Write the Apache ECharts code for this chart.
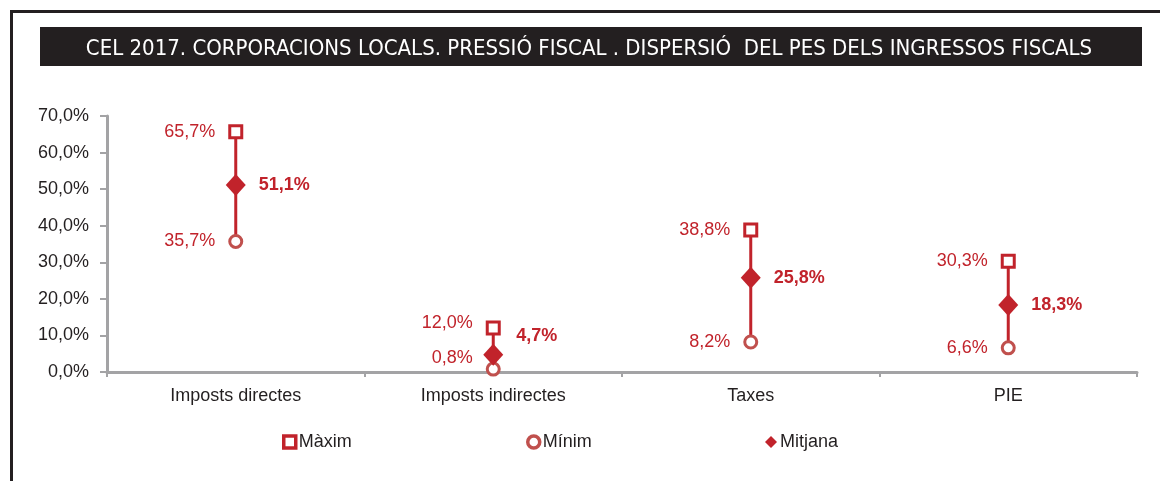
<!DOCTYPE html>
<html lang="ca">
<head>
  <meta charset="UTF-8">
  <title>CEL 2017. Corporacions locals. Pressió fiscal</title>
  <script src="https://cdn.jsdelivr.net/npm/echarts@6.0.0/dist/echarts.min.js"></script>
  <style>
    html, body { margin: 0; padding: 0; width: 100%; height: 100%; background: #fff; }
    #main { width: 1160px; height: 481px; }
  </style>
</head>
<body>
  <div id="main"></div>
  <script>
    const categories = ['Imposts directes', 'Imposts indirectes', 'Taxes', 'PIE'];
    const maxData = [65.7, 12.0, 38.8, 30.3];
    const minData = [35.7, 0.8, 8.2, 6.6];
    const meanData = [51.1, 4.7, 25.8, 18.3];

    const FONT = 'Liberation Sans';
    const RED = '#c1232b';
    const RED_LIGHT = '#c0504d';

    const fmt = v => v.toFixed(1).replace('.', ',') + '%';

    // label nudges for the crowded "Imposts indirectes" column
    const maxOffset = { 1: [0, -5] };
    const minOffset = { 1: [0, -11] };
    const meanOffset = { 1: [0, -19] };

    const withOffset = (arr, offs) => arr.map((v, i) =>
      offs[i] ? { value: [i, v], label: { offset: offs[i] } } : { value: [i, v] });

    const chart = echarts.init(document.getElementById('main'));

    const option = {
      animation: false,
      title: {
        text: 'CEL 2017. CORPORACIONS LOCALS. PRESSIÓ FISCAL . DISPERSIÓ  DEL PES DELS INGRESSOS FISCALS',
        left: 584,
        textAlign: 'center',
        top: 33,
        textStyle: { color: '#fff', fontFamily: 'DejaVu Sans', fontSize: 22, fontWeight: 'condensed' }
      },
      graphic: [
        { type: 'rect', z: -1, shape: { x: 40, y: 27, width: 1102, height: 39 }, style: { fill: '#231f20' } },
        { type: 'line', shape: { x1: 10, y1: 11.5, x2: 1160, y2: 11.5 }, style: { stroke: '#231f20', lineWidth: 3 } },
        { type: 'line', shape: { x1: 11.5, y1: 10, x2: 11.5, y2: 481 }, style: { stroke: '#231f20', lineWidth: 3 } }
      ],
      legend: [
        { data: ['Màxim'], left: 277, top: 428 },
        { data: ['Mínim'], left: 521, top: 428 },
        { data: ['Mitjana'], left: 760, top: 428 }
      ].map(l => Object.assign(l, {
        itemWidth: 12, itemHeight: 12, itemGap: 4,
        itemStyle: { borderWidth: 3.5 },
        textStyle: { fontFamily: FONT, fontSize: 18, color: '#231f20', padding: [0, 0, 0, -2] }
      })),
      grid: { left: 107, right: 23, top: 116, bottom: 109 },
      xAxis: {
        type: 'category',
        data: categories,
        boundaryGap: true,
        axisLine: { lineStyle: { color: '#a3a3a5', width: 3 } },
        axisTick: { show: true, length: 5, lineStyle: { color: '#a3a3a5', width: 2 } },
        axisLabel: { fontFamily: FONT, fontSize: 18, color: '#231f20', margin: 15 }
      },
      yAxis: {
        type: 'value',
        min: 0, max: 70, interval: 10,
        axisLine: { show: true, lineStyle: { color: '#a3a3a5', width: 3 } },
        axisTick: { show: true, length: 7, lineStyle: { color: '#a3a3a5', width: 2 } },
        splitLine: { show: false },
        axisLabel: { fontFamily: FONT, fontSize: 18, color: '#231f20', margin: 18, formatter: fmt }
      },
      series: [
        {
          type: 'custom',
          z: 1,
          silent: true,
          data: categories.map((c, i) => [i, maxData[i], minData[i]]),
          renderItem: function (params, api) {
            const p1 = api.coord([api.value(0), api.value(1)]);
            const p2 = api.coord([api.value(0), api.value(2)]);
            return {
              type: 'line',
              shape: { x1: p1[0], y1: p1[1], x2: p2[0], y2: p2[1] },
              style: { stroke: RED, lineWidth: 3 }
            };
          }
        },
        {
          name: 'Màxim',
          type: 'scatter',
          z: 3,
          symbol: 'rect',
          symbolSize: 12,
          data: withOffset(maxData, maxOffset),
          itemStyle: { color: '#fff', borderColor: RED, borderWidth: 3, opacity: 1 },
          label: {
            show: true, position: 'left', distance: 13,
            fontFamily: FONT, fontSize: 18, color: RED,
            formatter: p => fmt(p.value[1])
          }
        },
        {
          name: 'Mínim',
          type: 'scatter',
          z: 3,
          symbol: 'circle',
          symbolSize: 12,
          data: withOffset(minData, minOffset),
          itemStyle: { color: '#fff', borderColor: RED_LIGHT, borderWidth: 3, opacity: 1 },
          label: {
            show: true, position: 'left', distance: 13,
            fontFamily: FONT, fontSize: 18, color: RED,
            formatter: p => fmt(p.value[1])
          }
        },
        {
          name: 'Mitjana',
          type: 'scatter',
          z: 4,
          symbol: 'diamond',
          symbolSize: [20, 22],
          data: withOffset(meanData, meanOffset),
          itemStyle: { color: RED, opacity: 1 },
          label: {
            show: true, position: 'right', distance: 13,
            fontFamily: FONT, fontSize: 18, fontWeight: 'bold', color: RED,
            formatter: p => fmt(p.value[1])
          }
        }
      ]
    };

    chart.setOption(option);
  </script>
</body>
</html>
